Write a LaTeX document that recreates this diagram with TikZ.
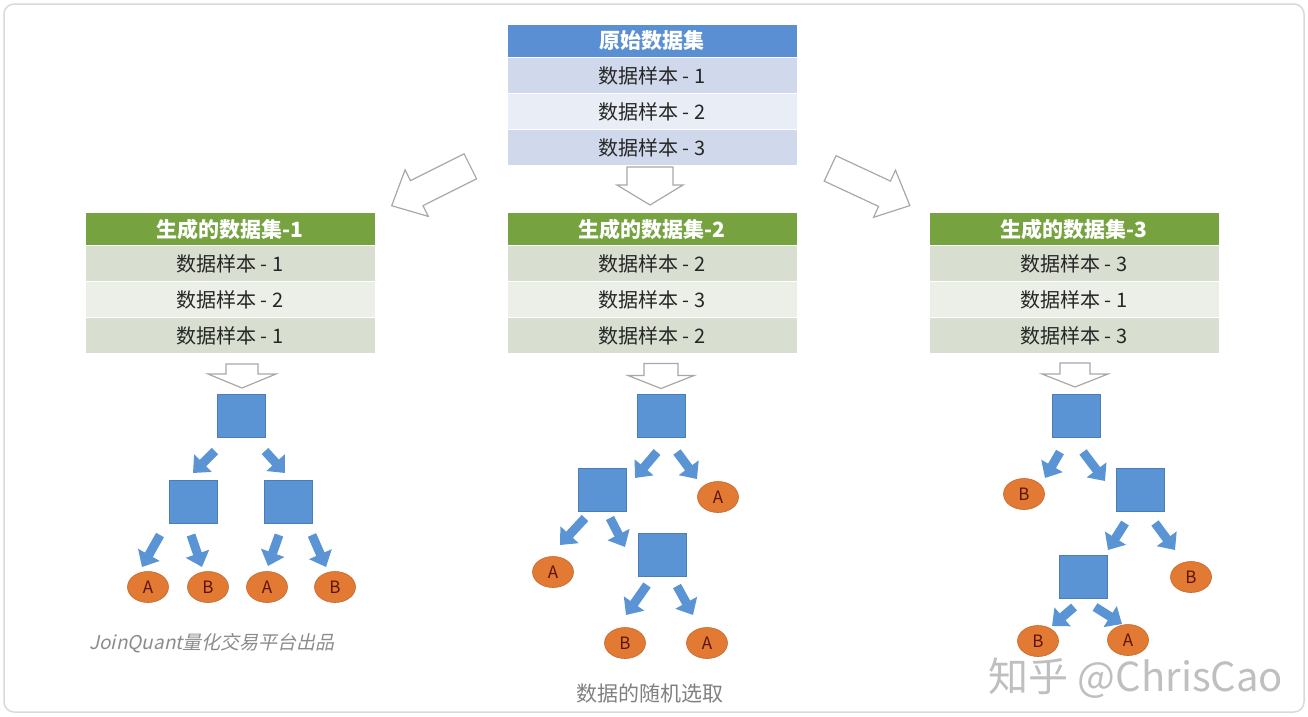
\documentclass[tikz,border=0pt]{standalone}
\usepackage{fontspec}
\setmainfont{Noto Sans CJK SC}
\newfontfamily\slantfont[FakeSlant=0.22]{Noto Sans CJK SC}
\usetikzlibrary{positioning,calc,shapes.geometric,arrows.meta}
\definecolor{topblue}{HTML}{5B8FD4}
\definecolor{rowblueA}{HTML}{D0D9EB}
\definecolor{rowblueB}{HTML}{E9EEF6}
\definecolor{topgreen}{HTML}{76A340}
\definecolor{rowgreenA}{HTML}{D8DED0}
\definecolor{rowgreenB}{HTML}{ECEFE8}
\definecolor{treeblue}{HTML}{5A94D4}
\definecolor{leaforange}{HTML}{E37A34}
\definecolor{leaftext}{HTML}{5A1408}
\definecolor{arrowgray}{HTML}{A8A8A8}

\begin{document}
\begin{tikzpicture}
 [x=1pt,y=-1pt,
sethead/.style={rectangle,minimum width=290pt,minimum height=33pt,inner sep=0pt,outer sep=0pt,
 draw=white,line width=0.8pt,text=white,font=\fontsize{21}{24}\selectfont\bfseries},
samplerow/.style={rectangle,minimum width=290pt,minimum height=36pt,inner sep=0pt,outer sep=0pt,
 draw=white,line width=0.8pt,text=black!85,font=\fontsize{20}{24}\selectfont},
treebox/.style={rectangle,fill=treeblue,draw=treeblue!85!black,line width=0.6pt,
 minimum width=48pt,minimum height=43pt,inner sep=0pt},
leaf/.style={ellipse,fill=leaforange,draw=leaforange!85!black,line width=0.6pt,
 minimum width=41pt,minimum height=31pt,inner sep=0pt,text=leaftext,font=\fontsize{17}{17}\selectfont},
barrow/.style={draw=treeblue,line width=9pt,-{Triangle[length=14pt,width=24pt]}},
pics/hollow/.style n args={4}{code={
 \draw[arrowgray,fill=white,line width=1.2pt,line join=miter]
  ({-#1/2},{-#3}) -- ({#1/2-#2},{-#3}) -- ({#1/2-#2},{-#4}) -- ({#1/2},0)
  -- ({#1/2-#2},{#4}) -- ({#1/2-#2},{#3}) -- ({-#1/2},{#3}) -- cycle;}}]
\useasboundingbox (0,0) rectangle (1308,716);
\draw[black!15,line width=1.5pt,rounded corners=10pt] (4,4) rectangle (1304,712);

% original data set
\node[sethead,fill=topblue] (h0) at (652,41) {原始数据集};
\node[samplerow,fill=rowblueA,below=0pt of h0] (s01) {数据样本 - 1};
\node[samplerow,fill=rowblueB,below=0pt of s01] (s02) {数据样本 - 2};
\node[samplerow,fill=rowblueA,below=0pt of s02] (s03) {数据样本 - 3};

% generated data sets
\node[sethead,fill=topgreen] (h1) at (230,229) {生成的数据集-1};
\node[samplerow,fill=rowgreenA,below=0pt of h1] (s11) {数据样本 - 1};
\node[samplerow,fill=rowgreenB,below=0pt of s11] (s12) {数据样本 - 2};
\node[samplerow,fill=rowgreenA,below=0pt of s12] (s13) {数据样本 - 1};

\node[sethead,fill=topgreen] (h2) at (652,229) {生成的数据集-2};
\node[samplerow,fill=rowgreenA,below=0pt of h2] (s21) {数据样本 - 2};
\node[samplerow,fill=rowgreenB,below=0pt of s21] (s22) {数据样本 - 3};
\node[samplerow,fill=rowgreenA,below=0pt of s22] (s23) {数据样本 - 2};

\node[sethead,fill=topgreen] (h3) at (1074,229) {生成的数据集-3};
\node[samplerow,fill=rowgreenA,below=0pt of h3] (s31) {数据样本 - 3};
\node[samplerow,fill=rowgreenB,below=0pt of s31] (s32) {数据样本 - 1};
\node[samplerow,fill=rowgreenA,below=0pt of s32] (s33) {数据样本 - 3};

% hollow arrows
\pic[rotate=206.6] at (431,186) {hollow={88}{28}{14}{26}};
\pic[rotate=-90] at (650,186) {hollow={38}{20}{23}{33}};
\pic[rotate=-25] at (870,187) {hollow={88}{28}{14}{26}};
\pic[rotate=-90] at (242,376) {hollow={24}{14}{16}{34}};
\pic[rotate=-90] at (661,376) {hollow={25}{13}{17}{33}};
\pic[rotate=-90] at (1075,375) {hollow={24}{13}{15}{33}};

% tree 1
\node[treebox] (r1) at (241,416) {};
\node[treebox] (n11) at (193,502) {};
\node[treebox] (n12) at (288,502) {};
\node[leaf] (l11) at (148,587) {A};
\node[leaf] (l12) at (208,587) {B};
\node[leaf] (l13) at (267,587) {A};
\node[leaf] (l14) at (335,587) {B};
\draw[barrow] ($(r1)+(-26,35)$) -- ($(n11)+(0,-29)$);
\draw[barrow] ($(r1)+(24,35)$) -- ($(n12)+(-3,-29)$);
\draw[barrow] ($(n11)+(-33,33)$) -- ($(l11)+(-6,-20)$);
\draw[barrow] ($(n11)+(-2,33)$) -- ($(l12)+(-6,-20)$);
\draw[barrow] ($(n12)+(-9,33)$) -- ($(l13)+(1,-21)$);
\draw[barrow] ($(n12)+(24,33)$) -- ($(l14)+(-9,-20)$);

% tree 2
\node[treebox] (r2) at (661,416) {};
\node[treebox] (m1) at (602,490) {};
\node[leaf] (l21) at (718,497) {A};
\node[leaf] (l22) at (553,572) {A};
\node[treebox] (m2) at (662,555) {};
\node[leaf] (l23) at (625,643) {B};
\node[leaf] (l24) at (707,643) {A};
\draw[barrow] ($(r2)+(-4,36)$) -- ($(m1)+(33,-12)$);
\draw[barrow] ($(r2)+(16,36)$) -- ($(l21)+(-21,-18)$);
\draw[barrow] ($(m1)+(-17,28)$) -- ($(l22)+(7,-27)$);
\draw[barrow] ($(m1)+(8,28)$) -- ($(m2)+(-37,-8)$);
\draw[barrow] ($(m2)+(-15,30)$) -- ($(l23)+(1,-28)$);
\draw[barrow] ($(m2)+(15,31)$) -- ($(l24)+(-14,-28)$);

% tree 3
\node[treebox] (r3) at (1076,416) {};
\node[leaf] (l31) at (1024,494) {B};
\node[treebox] (q1) at (1140,490) {};
\node[treebox] (q2) at (1083,577) {};
\node[leaf] (l32) at (1191,577) {B};
\node[leaf] (l33) at (1038,641) {B};
\node[leaf] (l34) at (1128,640) {A};
\draw[barrow] ($(r3)+(-16,36)$) -- ($(l31)+(21,-16)$);
\draw[barrow] ($(r3)+(7,36)$) -- ($(q1)+(-35,-9)$);
\draw[barrow] ($(q1)+(-15,33)$) -- ($(q2)+(25,-27)$);
\draw[barrow] ($(q1)+(15,33)$) -- ($(l32)+(-16,-27)$);
\draw[barrow] ($(q2)+(-9,30)$) -- ($(l33)+(14,-15)$);
\draw[barrow] ($(q2)+(12,30)$) -- ($(l34)+(-6,-16)$);

% captions
\node[text=black!45,font=\slantfont\fontsize{19}{22}\selectfont] (jq) at (212,643) {JoinQuant量化交易平台出品};
\node[text=black!50,font=\fontsize{21}{24}\selectfont] (cap) at (650,693) {数据的随机选取};
\node[text=black!25,font=\fontsize{40}{44}\selectfont] (wm) at (1136,678) {知乎 @ChrisCao};
\end{tikzpicture}
\end{document}
